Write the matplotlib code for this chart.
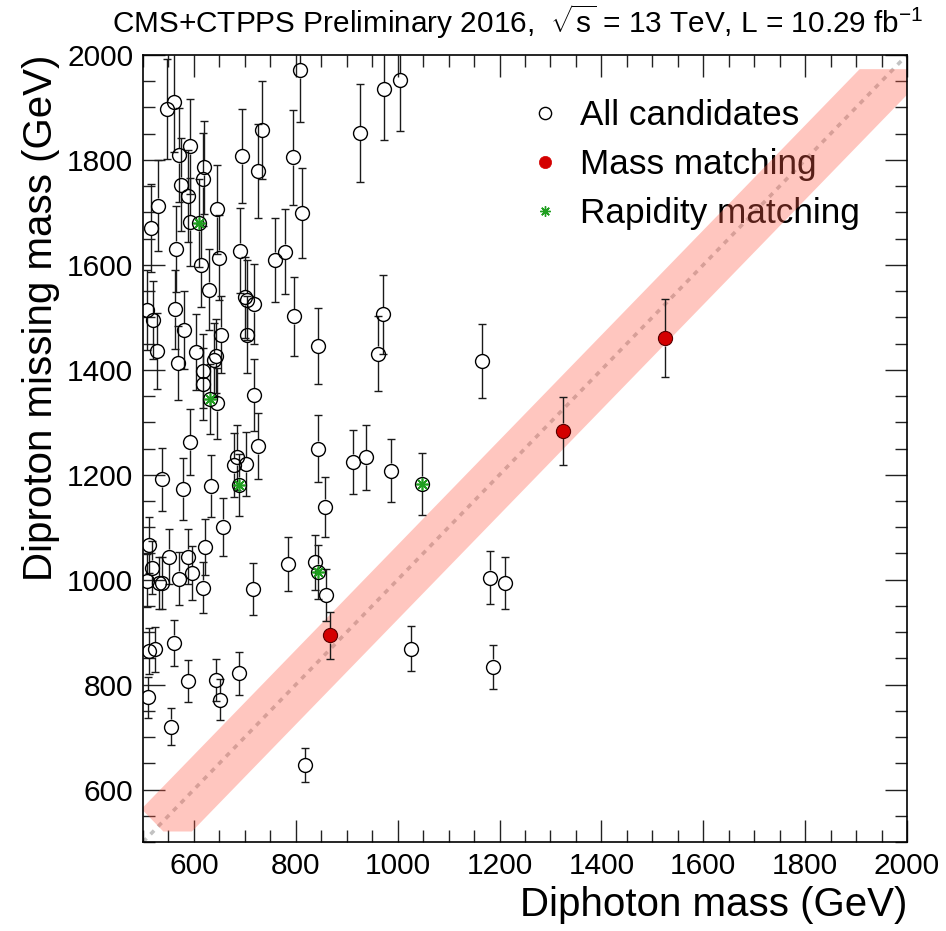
import matplotlib
matplotlib.use("Agg")
import numpy as np
import matplotlib.pyplot as plt
from matplotlib.lines import Line2D
from matplotlib.patches import Polygon
from matplotlib.ticker import MultipleLocator

plt.rcParams['font.family'] = ['Liberation Sans', 'DejaVu Sans']
plt.rcParams['mathtext.fontset'] = 'custom'
plt.rcParams['mathtext.rm'] = 'Liberation Sans'
plt.rcParams['mathtext.it'] = 'Liberation Sans:italic'
plt.rcParams['mathtext.bf'] = 'Liberation Sans:bold'

# ---- all diphoton candidates: diphoton mass, diproton missing mass, uncertainty (GeV)
cand_mgg = [808, 974, 1005, 926, 794, 813, 548, 560, 592, 570,
            694, 733, 726, 620, 618, 575, 589, 530, 646, 516,
            592, 610, 564, 649, 613, 690, 759, 778, 630, 507,
            520, 563, 701, 704, 718, 581, 654, 704, 797, 527,
            568, 605, 643, 639, 618, 618, 717, 632, 646, 593,
            844, 972, 961, 843, 912, 937, 987, 1047, 858, 725,
            538, 579, 634, 685, 679, 702, 689, 658, 512, 552,
            588, 622, 518, 508, 532, 537, 570, 597, 618, 715,
            784, 838, 844, 859, 1026, 818, 1166, 1181, 1211, 1188,
            512, 524, 560, 588, 643, 651, 689, 510, 554]
cand_mpp = [1971, 1935, 1952, 1851, 1805, 1699, 1897, 1910, 1826, 1809,
            1807, 1857, 1779, 1786, 1763, 1753, 1731, 1713, 1706, 1670,
            1681, 1679, 1631, 1614, 1600, 1627, 1610, 1625, 1553, 1514,
            1495, 1515, 1538, 1533, 1525, 1476, 1467, 1467, 1502, 1436,
            1413, 1434, 1426, 1419, 1398, 1373, 1352, 1344, 1336, 1262,
            1445, 1506, 1431, 1250, 1225, 1233, 1208, 1183, 1139, 1254,
            1191, 1172, 1178, 1233, 1218, 1220, 1181, 1101, 1066, 1044,
            1044, 1062, 1023, 998, 994, 994, 1002, 1013, 985, 982,
            1030, 1033, 1015, 971, 868, 647, 1417, 1004, 994, 834,
            864, 867, 880, 807, 809, 771, 822, 776, 720]
cand_err = [98, 97, 97, 93, 90, 86, 95, 95, 91, 90,
            90, 93, 89, 89, 88, 88, 87, 86, 85, 84,
            84, 84, 82, 81, 80, 81, 80, 81, 78, 76,
            75, 76, 77, 77, 76, 74, 73, 73, 75, 72,
            71, 72, 71, 71, 70, 69, 68, 67, 67, 63,
            73, 75, 72, 63, 61, 62, 60, 59, 57, 63,
            60, 59, 59, 62, 61, 61, 59, 55, 53, 52,
            52, 53, 51, 50, 50, 50, 50, 51, 49, 49,
            52, 52, 51, 49, 43, 32, 71, 50, 50, 42,
            43, 43, 44, 40, 40, 39, 41, 39, 36]

# ---- candidates compatible in mass
mass_mgg = [868, 1324, 1525]
mass_mpp = [894, 1284, 1460]
mass_err = [45, 65, 74]

# ---- candidates compatible in rapidity
rap_mgg = [610, 632, 689, 844, 1047]
rap_mpp = [1679, 1344, 1181, 1015, 1183]

# ---- axis ranges and matching band (edge offsets from the diagonal, GeV)
axis_min, axis_max = 500, 2000
band_hi, band_lo = 66, -76
band_xstart = 497
band_ymin, band_ymax = 520, 1973

W, H = 946, 931
fig = plt.figure(figsize=(W / 100, H / 100), dpi=100)
ax = fig.add_axes([143 / W, 1 - 842 / H, (907 - 143) / W, (842 - 55) / H])
ax.set_xlim(axis_min, axis_max)
ax.set_ylim(axis_min, axis_max)

# half-size of the marker in data units, so error bars stop at the circle edge
marker_px = 7.3
gap = marker_px * (axis_max - axis_min) / ax.bbox.height

bar_color = '#1a1a1a'


def draw_bars(x, y, e, color):
    x = np.asarray(x, float)
    y = np.asarray(y, float)
    e = np.asarray(e, float)
    ax.vlines(x, y - e, y - gap, colors=color, lw=1.0, zorder=3)
    ax.vlines(x, y + gap, y + e, colors=color, lw=1.0, zorder=3)
    ax.plot(x, y - e, ls='none', marker='_', ms=5.5, mew=1.0, color=color, zorder=3)
    ax.plot(x, y + e, ls='none', marker='_', ms=5.5, mew=1.0, color=color, zorder=3)


draw_bars(cand_mgg, cand_mpp, cand_err, bar_color)
ax.plot(cand_mgg, cand_mpp, ls='none', marker='o', ms=10.0, mfc='none',
        mec='black', mew=1.0, zorder=4)

draw_bars(mass_mgg, mass_mpp, mass_err, bar_color)
ax.plot(mass_mgg, mass_mpp, ls='none', marker='o', ms=10.2, mfc='#d40000',
        mec='#5a0000', mew=0.8, zorder=4)

ax.plot(rap_mgg, rap_mpp, ls='none', marker=(8, 2, 0), ms=9, mec='#1f9e1f',
        mew=1.2, zorder=5)

# diagonal m_pp = m_gg
ax.plot([axis_min, axis_max], [axis_min, axis_max], color='#c2c2c2', lw=2.6,
        ls=(0, (1.4, 1.6)), dash_capstyle='butt', zorder=1)

# matching band around the diagonal
xcut = band_xstart + (band_xstart + band_hi - band_ymin)
band_pts = [(band_xstart, band_xstart + band_hi),
            (band_ymax - band_hi, band_ymax),
            (axis_max + 20, band_ymax),
            (axis_max + 20, axis_max + 20 + band_lo),
            (band_ymin - band_lo, band_ymin),
            (xcut, band_ymin)]
ax.add_patch(Polygon(band_pts, closed=True, facecolor=(1.0, 0.37, 0.29),
                     alpha=0.35, edgecolor='none', zorder=2))

# axes styling
ax.xaxis.set_minor_locator(MultipleLocator(50))
ax.yaxis.set_minor_locator(MultipleLocator(50))
ax.set_xticks([600, 800, 1000, 1200, 1400, 1600, 1800, 2000])
ax.set_yticks([600, 800, 1000, 1200, 1400, 1600, 1800, 2000])
ax.tick_params(which='both', direction='in', top=True, right=True,
               labelsize=21.5, width=1.0, color='#222222')
ax.tick_params(which='major', length=16, pad=7)
ax.tick_params(which='minor', length=8.5)
for s in ax.spines.values():
    s.set_linewidth(1.2)

ax.set_xlabel('Diphoton mass (GeV)', fontsize=29, loc='right')
ax.xaxis.set_label_coords(1.0, -0.056)
ax.set_ylabel('Diproton missing mass (GeV)', fontsize=29, loc='top')
ax.yaxis.set_label_coords(-0.108, 1.0)

fig.text(924 / W, 1 - 33 / H,
         r'CMS+CTPPS Preliminary 2016,  $\sqrt{\mathrm{s}}$ = 13 TeV, L = 10.29 fb$^{\mathrm{-1}}$',
         ha='right', va='baseline', fontsize=21.4)

handles = [
    Line2D([], [], ls='none', marker='o', ms=8.8, mfc='none', mec='black', mew=1.0),
    Line2D([], [], ls='none', marker='o', ms=8.8, mfc='#d40000', mec='#d40000', mew=0.5),
    Line2D([], [], ls='none', marker=(8, 2, 0), ms=7.5, mec='#1f9e1f', mew=1.0),
]
labels = ['All candidates', 'Mass matching', 'Rapidity matching']
leg = ax.legend(handles, labels, loc='upper left', bbox_to_anchor=(0.503, 0.944),
                frameon=False, fontsize=25.3, handlelength=1.0, handletextpad=0.5,
                borderpad=0, borderaxespad=0, labelspacing=0.46, numpoints=1)
leg.set_zorder(1.5)

fig.savefig('out.png', dpi=100)
